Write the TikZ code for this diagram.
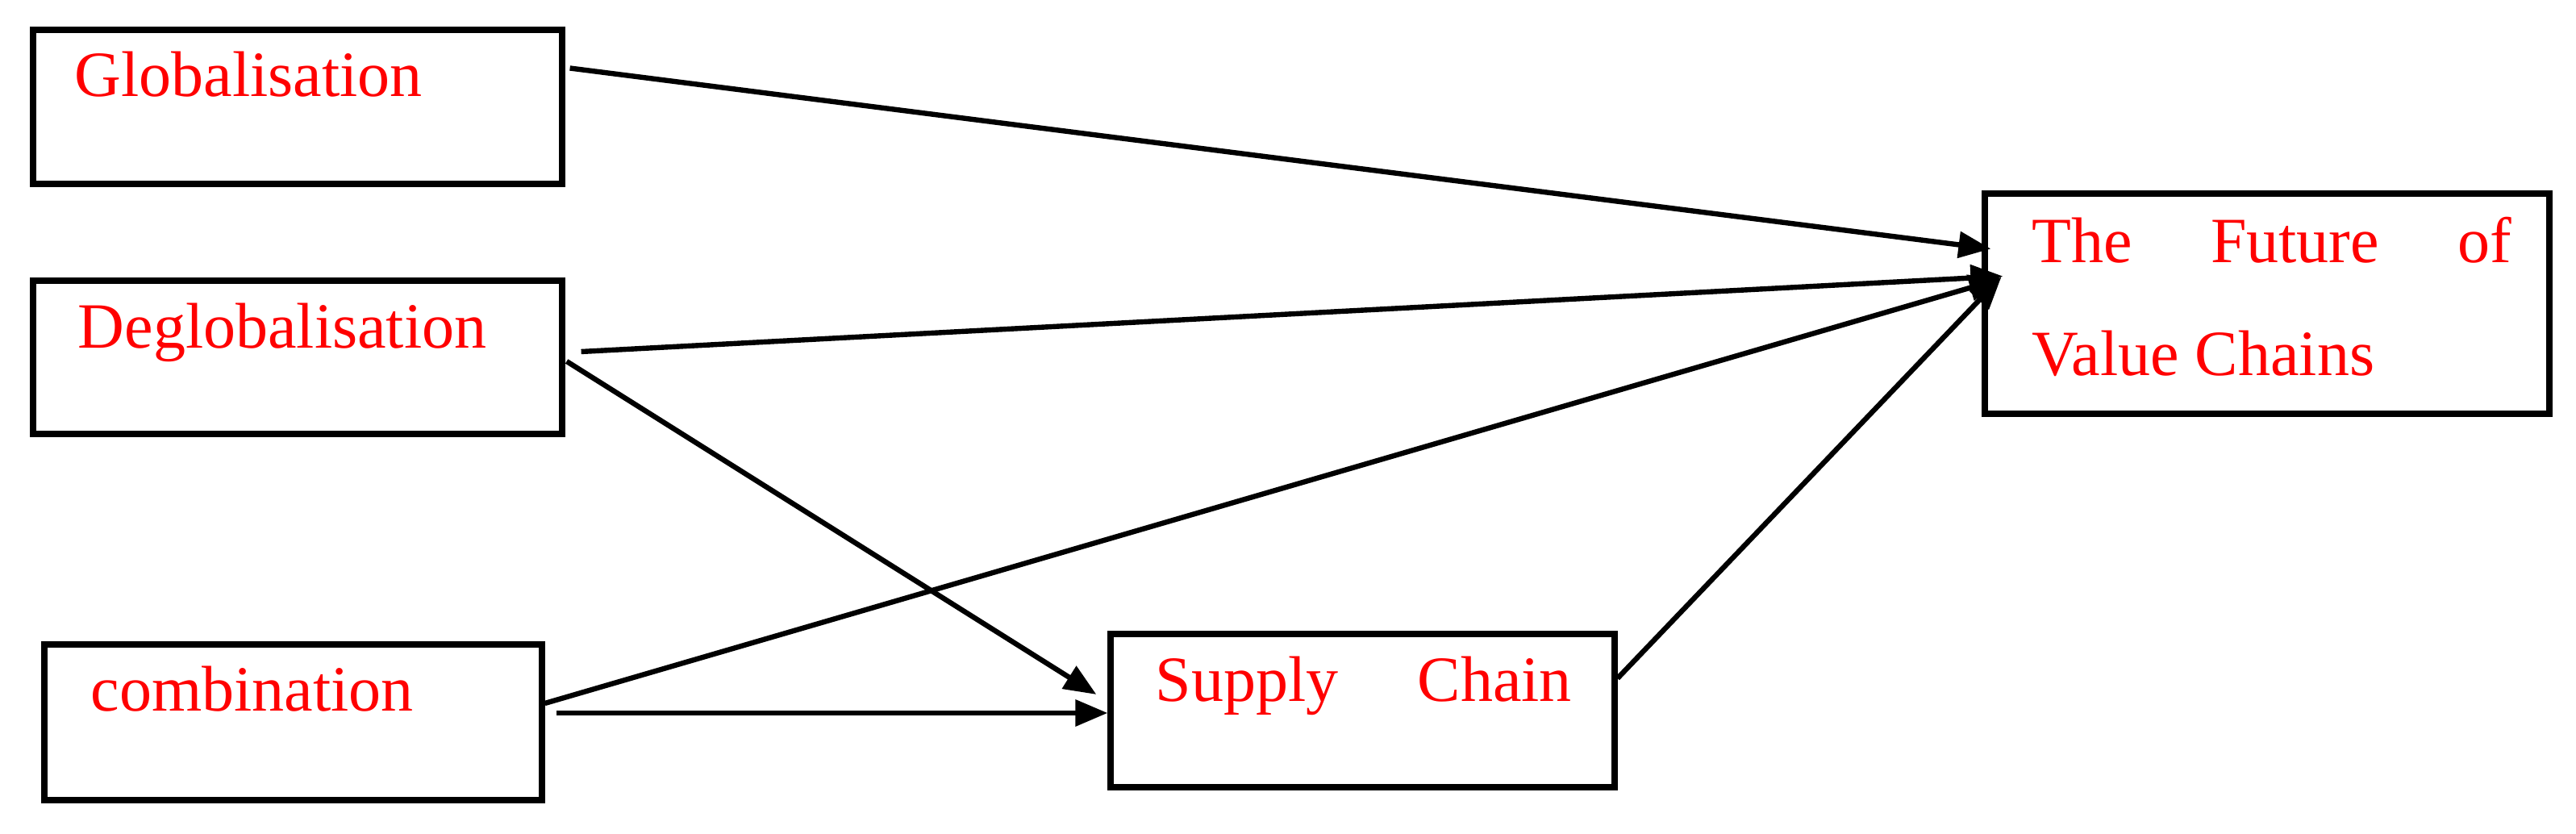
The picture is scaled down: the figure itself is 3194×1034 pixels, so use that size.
\documentclass[tikz,border=0pt]{standalone}
\usepackage{fontspec}
\setmainfont{Liberation Serif}
\usetikzlibrary{positioning,arrows.meta}
\tikzset{
  box/.style={draw, rectangle, line width=1.8pt, inner sep=0pt},
  lbl/.style={text=red, font=\fontsize{20pt}{24pt}\selectfont, inner sep=0pt, anchor=base west},
  link/.style={-{Triangle[length=10pt,width=8pt]}, line width=1.6pt}
}
\begin{document}
\begin{tikzpicture}[x=0.25pt,y=-0.25pt]
              \useasboundingbox (0,0) rectangle (3194,1034);

              % Draw the boxes on the left
              \node[box, minimum width=164pt, minimum height=47.75pt] (glob) at (369,132.5) {};
              \node[box, minimum width=164pt, minimum height=47.5pt] (deglob) at (369,443) {};
              \node[box, minimum width=154.25pt, minimum height=48.25pt] (comb) at (363.5,895.5) {};

              % Draw the middle and the target box
              \node[box, minimum width=156.25pt, minimum height=47.5pt] (supply) at (1689.5,881) {};
              \node[box, minimum width=175pt, minimum height=68.25pt] (future) at (2811,376.5) {};

              % Labels
              \node[lbl] (globtxt) at (92,120) {Globalisation};
              \node[lbl] (deglobtxt) at (96,432) {Deglobalisation};
              \node[lbl] (combtxt) at (112,882) {combination};
              \node[lbl] (supplytxt) at (1432,870) {\makebox[129pt][s]{Supply Chain}};
              \node[lbl] (futuretxt) at (2519,326) {\makebox[148.5pt][s]{The Future of}};
              \node[lbl] (valuetxt) at (2519,466) {Value Chains};

              % Draw arrows into the future box
              \draw[link] ([shift={(6,-48)}]glob.east) -- ([shift={(11,-68)}]future.west);
              \draw[link] ([shift={(20,-7)}]deglob.east) -- ([shift={(26,-34)}]future.west);
              \draw[link] ([shift={(0,-23.5)}]comb.east) -- ([shift={(24,-31)}]future.west);
              \draw[link] ([shift={(0,-40)}]supply.east) -- ([shift={(24,-33)}]future.west);

              % Draw arrows into the supply chain box
              \draw[link] ([shift={(2,5)}]deglob.east) -- ([shift={(-14,-20)}]supply.west);
              \draw[link] ([shift={(14,-11.5)}]comb.east) -- ([shift={(0,3)}]supply.west);
        \end{tikzpicture}
\end{document}
